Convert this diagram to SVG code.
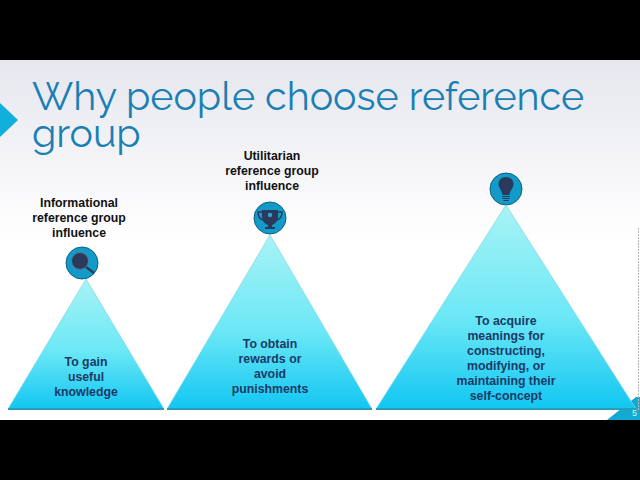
<svg xmlns="http://www.w3.org/2000/svg" width="640" height="480" viewBox="0 0 640 480">
<style>
.title{font-family:"Raleway","Lato","Open Sans",sans-serif;font-size:39.4px;fill:#1a7fb5}
.hd{font-family:"Liberation Sans",Arial,sans-serif;font-size:12.3px;font-weight:bold;fill:#111;text-anchor:middle}
.bd{font-family:"Liberation Sans",Arial,sans-serif;font-size:12.3px;font-weight:bold;fill:#1b3a66;text-anchor:middle}
.tri{fill:url(#tg);stroke:#7fd4e0;stroke-width:.7}
.base{stroke:#2a9dbd;stroke-width:1.8;fill:none}
.disc{fill:#129bc8;stroke:#0d5f80;stroke-width:1}
.ic{fill:#2b3a5c}
</style>
<defs>
<linearGradient id="bg" x1="0" y1="0" x2="0" y2="1"><stop offset="0" stop-color="#e6e7ee"/><stop offset=".5" stop-color="#ffffff"/><stop offset="1" stop-color="#ffffff"/></linearGradient>
<linearGradient id="tg" x1="0" y1="0" x2="0" y2="1"><stop offset="0" stop-color="#a8f3f5"/><stop offset=".55" stop-color="#6ce8f6"/><stop offset="1" stop-color="#12c6f2"/></linearGradient>
</defs>
<rect width="640" height="480" fill="#000"/>
<rect y="60" width="640" height="360" fill="url(#bg)"/>
<polygon points="0,103 18,120 0,137" fill="#0fb0dc"/>
<polygon points="607,420 622,408 636,397 640,397 640,420" fill="#12a9d2"/>
<line x1="638.500" y1="228" x2="638.500" y2="410" stroke="#b8b8b8" stroke-width="1" stroke-dasharray="2 1"/>
<text class="title" x="32" y="110">Why people choose reference</text>
<text class="title" x="32" y="147">group</text>
<g id="node-informational">
<text class="hd" x="79" y="207">Informational</text>
<text class="hd" x="79" y="222">reference group</text>
<text class="hd" x="79" y="237">influence</text>
<circle class="disc" cx="82" cy="263" r="16"/>
<circle cx="80" cy="261" r="8.500" fill="#2b3a5c" stroke="#5a7a9a" stroke-width="1"/>
<line x1="86" y1="267" x2="94" y2="273" stroke="#2b3a5c" stroke-width="2.200"/>
<polygon class="tri" points="86,279 164,409 8,409"/>
<line class="base" x1="8" y1="409" x2="164" y2="409"/>
<text class="bd" x="86" y="366">To gain</text>
<text class="bd" x="86" y="381">useful</text>
<text class="bd" x="86" y="396">knowledge</text>
</g>
<g id="node-utilitarian">
<text class="hd" x="272" y="159.500">Utilitarian</text>
<text class="hd" x="272" y="174.500">reference group</text>
<text class="hd" x="272" y="189.500">influence</text>
<circle class="disc" cx="270" cy="218" r="16"/>
<path class="ic" d="M262,210h16v7c0,4-3,7-6,8v2h3v2h-10v-2h3v-2c-3-1-6-4-6-8z"/>
<path d="M262,212h-4c0,5 2,7 5,8M278,212h4c0,5-2,7-5,8" fill="none" stroke="#2b3a5c" stroke-width="1.500"/>
<circle cx="270" cy="215" r="2.200" fill="#2aa6c8"/>
<polygon class="tri" points="270,235 372,409 167,409"/>
<line class="base" x1="167" y1="409" x2="372" y2="409"/>
<text class="bd" x="270" y="348">To obtain</text>
<text class="bd" x="270" y="363">rewards or</text>
<text class="bd" x="270" y="378">avoid</text>
<text class="bd" x="270" y="393">punishments</text>
</g>
<g id="node-value">
<circle class="disc" cx="506" cy="189" r="16"/>
<path class="ic" d="M506,177c-5,0-7.500,3.500-7.500,7c0,4 3.500,6 4,11h7c.5-5 4-7 4-11c0-3.500-2.500-7-7.500-7z"/>
<path d="M502,196.500h8M502.500,198.500h7M503.500,200.500h5" stroke="#2b3a5c" stroke-width="1.200"/>
<polygon class="tri" points="506,205 636,409 376,409"/>
<line class="base" x1="376" y1="409" x2="636" y2="409"/>
<text class="bd" x="506" y="325">To acquire</text>
<text class="bd" x="506" y="340">meanings for</text>
<text class="bd" x="506" y="355">constructing,</text>
<text class="bd" x="506" y="370">modifying, or</text>
<text class="bd" x="506" y="385">maintaining their</text>
<text class="bd" x="506" y="400">self-concept</text>
</g>
<text x="632" y="416" font-family="Liberation Sans,sans-serif" font-size="9" fill="#d8f4fb">5</text>
<g id="connectors"/>
</svg>
